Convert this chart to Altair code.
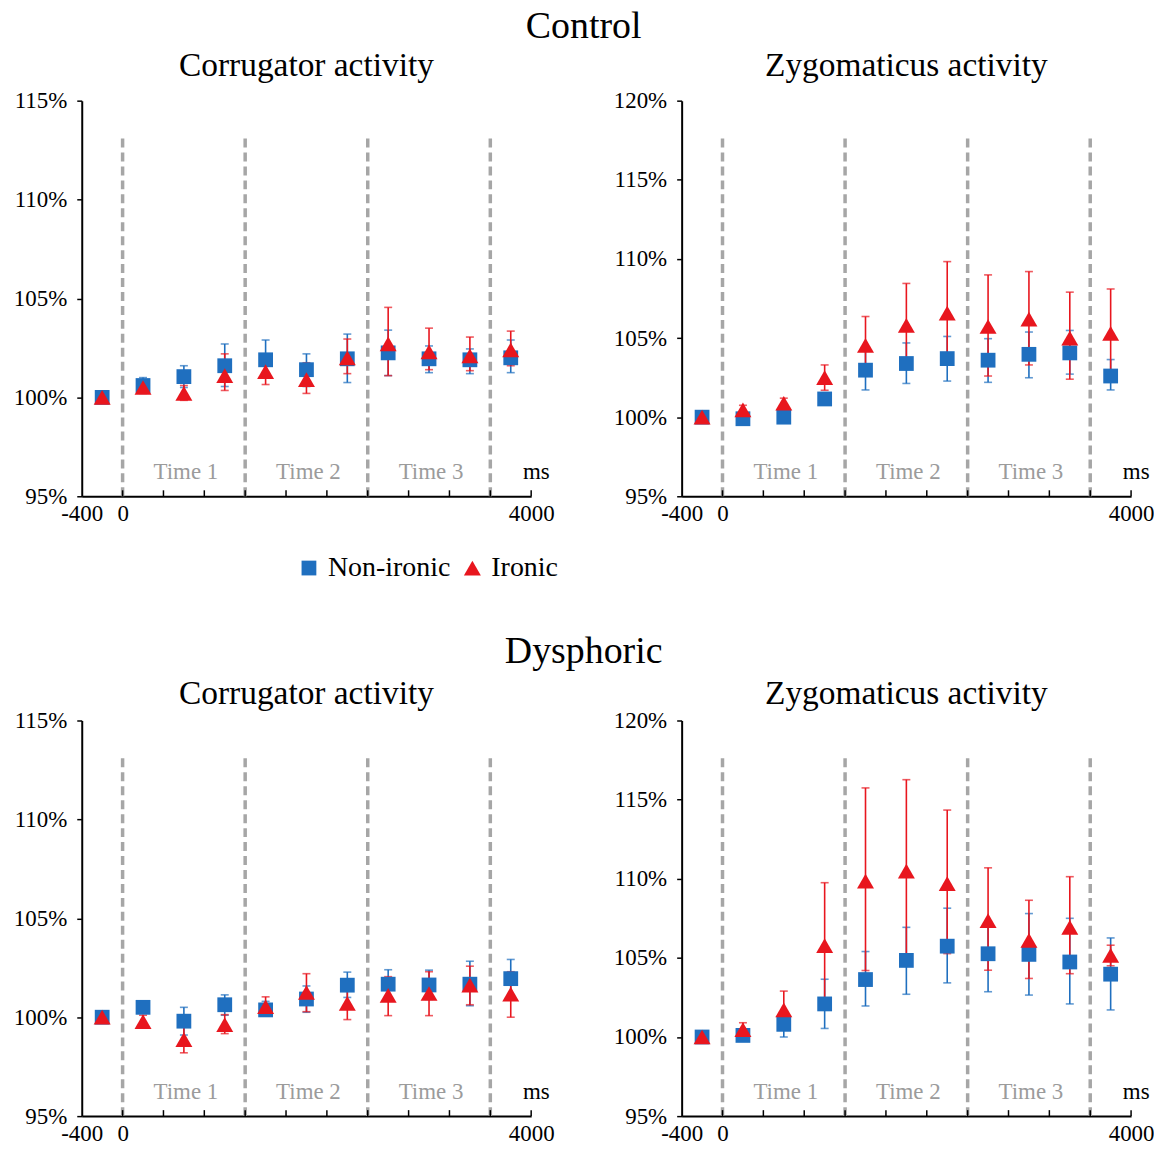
import altair as alt
import pandas as pd

FONT = "Liberation Serif"
BLUE = "#1f6fbf"
RED = "#e8161e"
GREY = "#a6a6a6"

W, H = 451, 397

series = ["Non-ironic", "Ironic"]
series_colors = [BLUE, RED]
series_shapes = ["square", "triangle-up"]
series_sizes = [220, 290]
times = [-200, 200, 600, 1000, 1400, 1800, 2200, 2600, 3000, 3400, 3800]
dash_pos = [0, 1200, 2400, 3600]
tick_pos = [0, 400, 800, 1200, 1600, 2000, 2400, 2800, 3200, 3600, 4000]
period_pos = [600, 1800, 3000]
period_txt = ["Time 1", "Time 2", "Time 3"]
unit_pos = [4050]
unit_txt = ["ms"]
x_labels = [-400, 0, 4000]

# Control - Corrugator
cc_non = [100.0, 100.6, 101.05, 101.6, 101.9, 101.4, 101.95, 102.25, 101.95, 101.9, 102.0]
cc_non_lo = [100.0, 100.2, 100.5, 100.55, 101.0, 100.55, 100.75, 101.1, 101.25, 101.2, 101.25]
cc_non_hi = [100.0, 101.0, 101.6, 102.7, 102.9, 102.2, 103.2, 103.4, 102.6, 102.45, 102.9]
cc_iro = [100.0, 100.5, 100.2, 101.1, 101.3, 100.9, 102.0, 102.7, 102.3, 102.1, 102.4]
cc_iro_lo = [100.0, 100.3, 99.85, 100.35, 100.65, 100.2, 101.2, 101.1, 101.4, 101.35, 101.6]
cc_iro_hi = [100.0, 100.7, 100.6, 102.2, 101.95, 101.75, 102.95, 104.55, 103.5, 103.05, 103.35]

# Control - Zygomaticus
cz_non = [100.0, 99.9, 100.0, 101.15, 102.97, 103.39, 103.7, 103.6, 103.97, 104.06, 102.6]
cz_non_lo = [100.0, 99.7, 99.8, 100.8, 101.72, 102.13, 102.28, 102.2, 102.49, 102.72, 101.72]
cz_non_hi = [100.0, 100.1, 100.2, 101.5, 104.18, 104.69, 105.1, 104.96, 105.38, 105.48, 103.64]
cz_iro = [100.0, 100.46, 100.88, 102.5, 104.54, 105.8, 106.57, 105.73, 106.2, 105.0, 105.3]
cz_iro_lo = [100.0, 100.2, 100.6, 101.7, 102.7, 103.1, 103.3, 102.6, 103.3, 102.4, 102.5]
cz_iro_hi = [100.0, 100.75, 101.2, 103.3, 106.36, 108.45, 109.83, 108.99, 109.2, 107.9, 108.1]

# Dysphoric - Corrugator
dc_non = [100.0, 100.5, 99.8, 100.63, 100.37, 100.92, 101.62, 101.67, 101.63, 101.67, 101.95]
dc_non_lo = [100.0, 100.2, 99.1, 100.1, 100.08, 100.25, 101.0, 100.9, 100.9, 100.58, 101.0]
dc_non_hi = [100.0, 100.8, 100.5, 101.13, 100.8, 101.58, 102.28, 102.4, 102.38, 102.83, 102.92]
dc_iro = [100.0, 99.78, 98.87, 99.63, 100.53, 101.25, 100.7, 101.1, 101.2, 101.62, 101.17]
dc_iro_lo = [100.0, 99.45, 98.2, 99.17, 100.08, 100.28, 99.88, 100.08, 100.08, 100.63, 100.0]
dc_iro_hi = [100.0, 100.1, 99.5, 100.13, 101.03, 102.2, 101.5, 102.05, 102.3, 102.58, 102.3]

# Dysphoric - Zygomaticus
dz_non = [100.0, 100.1, 100.8, 102.09, 103.63, 104.84, 105.74, 105.26, 105.22, 104.74, 103.97]
dz_non_lo = [100.0, 99.9, 100.0, 100.54, 101.96, 102.7, 103.42, 102.86, 102.65, 102.09, 101.71]
dz_non_hi = [100.0, 100.3, 101.4, 103.65, 105.4, 106.93, 108.14, 107.2, 107.8, 107.5, 106.26]
dz_iro = [100.0, 100.46, 101.71, 105.78, 109.85, 110.48, 109.69, 107.35, 106.1, 106.93, 105.16]
dz_iro_lo = [100.0, 100.2, 100.5, 101.8, 104.2, 104.7, 105.27, 104.22, 103.7, 104.0, 104.5]
dz_iro_hi = [100.0, 100.9, 102.9, 109.75, 115.74, 116.26, 114.34, 110.69, 108.64, 110.13, 105.8]


def make_df(non, non_lo, non_hi, iro, iro_lo, iro_hi):
    rows = []
    for s, v, lo, hi in [(series[0], non, non_lo, non_hi), (series[1], iro, iro_lo, iro_hi)]:
        for t, a, b, c in zip(times, v, lo, hi):
            rows.append({"t": t, "series": s, "v": a, "lo": b, "hi": c})
    return pd.DataFrame(rows)


def panel(title, ymax, df, title_offset, show_legend=False):
    xs = alt.Scale(domain=[-400, 4000], nice=False, zero=False)
    ys = alt.Scale(domain=[95, ymax], nice=False, zero=False)
    xax = alt.Axis(values=x_labels, ticks=False, grid=False, title=None,
                   labelExpr="'' + datum.value",
                   labelFont=FONT, labelFontSize=23, labelColor="black",
                   labelPadding=6, labelFlush=False, labelOverlap=False,
                   domainColor="black", domainWidth=2)
    yax = alt.Axis(values=list(range(95, ymax + 1, 5)), labelExpr="datum.value + '%'",
                   grid=False, title=None, labelFont=FONT, labelFontSize=23,
                   labelColor="black", labelPadding=10, tickSize=5, tickColor="black",
                   tickWidth=1.5, domainColor="black", domainWidth=2, labelOverlap=False)

    dashes = alt.Chart(pd.DataFrame({"d": dash_pos})).mark_rule(
        strokeDash=[9, 5], strokeWidth=3.5, color=GREY
    ).encode(x=alt.X("d:Q", scale=xs, axis=xax), y=alt.value(38), y2=alt.value(H))

    ticks = alt.Chart(pd.DataFrame({"d": tick_pos})).mark_rule(
        strokeWidth=1.5, color="black"
    ).encode(x=alt.X("d:Q", scale=xs), y=alt.value(H), y2=alt.value(H - 6))

    labels = alt.Chart(pd.DataFrame({"d": period_pos, "txt": period_txt})).mark_text(
        font=FONT, fontSize=23, color="#9b9b9b", baseline="middle", dx=2
    ).encode(x=alt.X("d:Q", scale=xs), y=alt.value(H - 24), text="txt:N")

    unit = alt.Chart(pd.DataFrame({"d": unit_pos, "txt": unit_txt})).mark_text(
        font=FONT, fontSize=23, color="black", baseline="middle"
    ).encode(x=alt.X("d:Q", scale=xs), y=alt.value(H - 24), text="txt:N")

    base = alt.Chart(df)
    err_layers = []
    for s, c in zip(series, series_colors):
        sub = base.transform_filter(alt.datum.series == s)
        err_layers.append(sub.mark_rule(strokeWidth=1.6, color=c).encode(
            x=alt.X("t:Q", scale=xs),
            y=alt.Y("lo:Q", scale=ys, axis=yax),
            y2="hi:Q",
        ))
        err_layers.append(sub.mark_tick(orient="horizontal", size=8, thickness=1.6, color=c).encode(
            x=alt.X("t:Q", scale=xs), y=alt.Y("lo:Q", scale=ys)))
        err_layers.append(sub.mark_tick(orient="horizontal", size=8, thickness=1.6, color=c).encode(
            x=alt.X("t:Q", scale=xs), y=alt.Y("hi:Q", scale=ys)))

    extra = {}
    if show_legend:
        leg = alt.Legend(orient="none", legendX=214, legendY=455, direction="horizontal",
                         title=None, labelFont=FONT, labelFontSize=28, labelColor="black",
                         labelOffset=5, columnPadding=8, labelLimit=300)
        extra = {"legend": leg}
    pts = base.mark_point(filled=True, opacity=1).encode(
        x=alt.X("t:Q", scale=xs),
        y=alt.Y("v:Q", scale=ys),
        color=alt.Color("series:N", scale=alt.Scale(domain=series, range=series_colors), **extra),
        shape=alt.Shape("series:N", scale=alt.Scale(domain=series, range=series_shapes), **extra),
        size=alt.Size("series:N", scale=alt.Scale(domain=series, range=series_sizes), **extra),
    )

    return alt.layer(dashes, ticks, labels, unit, *err_layers, pts).properties(
        width=W, height=H,
        title=alt.TitleParams(title, font=FONT, fontSize=33.5, fontWeight="normal",
                              color="black", anchor="middle", offset=title_offset),
    )


p1 = panel("Corrugator activity", 115, make_df(cc_non, cc_non_lo, cc_non_hi, cc_iro, cc_iro_lo, cc_iro_hi), 6, True)
p2 = panel("Zygomaticus activity", 120, make_df(cz_non, cz_non_lo, cz_non_hi, cz_iro, cz_iro_lo, cz_iro_hi), 6)
p3 = panel("Corrugator activity", 115, make_df(dc_non, dc_non_lo, dc_non_hi, dc_iro, dc_iro_lo, dc_iro_hi), -2)
p4 = panel("Zygomaticus activity", 120, make_df(dz_non, dz_non_lo, dz_non_hi, dz_iro, dz_iro_lo, dz_iro_hi), -2)

top = alt.hconcat(p1, p2, spacing=59, title=alt.TitleParams(
    "Control", font=FONT, fontSize=38, fontWeight="normal", color="black", anchor="middle", offset=3))
bottom = alt.hconcat(p3, p4, spacing=59, title=alt.TitleParams(
    "Dysphoric", font=FONT, fontSize=38, fontWeight="normal", color="black", anchor="middle", offset=6))

chart = alt.vconcat(top, bottom, spacing=108).properties(
    padding={"left": 5, "top": -2, "right": 0, "bottom": 0}
).configure_view(strokeWidth=0)

chart.save("out.html", embed_options={"renderer": "svg", "actions": False})
